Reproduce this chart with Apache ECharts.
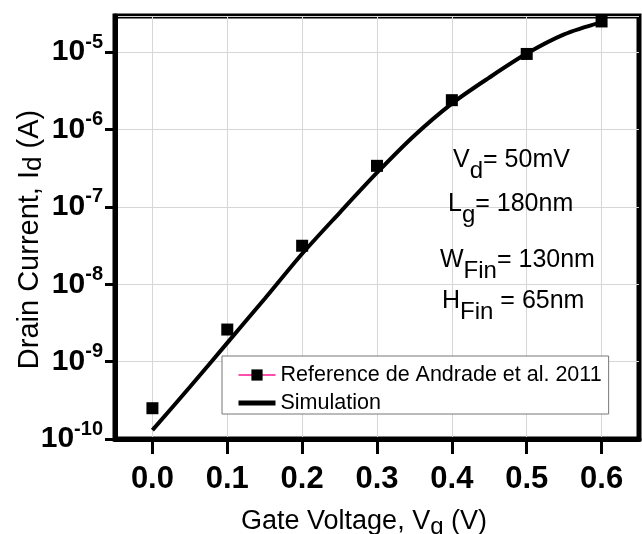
<!DOCTYPE html>
<html>
<head>
<meta charset="utf-8">
<script src="https://cdn.jsdelivr.net/npm/echarts@6/dist/echarts.min.js"></script>
<style>
html,body{margin:0;padding:0;background:#fff;}
#chart{width:642px;height:534px;}
</style>
</head>
<body>
<div id="chart"></div>
<script>
// ---- data ----
const xTicks = [0.0, 0.1, 0.2, 0.3, 0.4, 0.5, 0.6];
const refX = [0.0, 0.1, 0.2, 0.3, 0.4, 0.5, 0.6];
const refY = [2.5e-10, 2.6e-9, 3.15e-8, 3.4e-7, 2.4e-6, 9.5e-6, 2.5e-5];
const simX = [0.0, 0.05, 0.1, 0.15, 0.2, 0.25, 0.3, 0.35, 0.4, 0.45, 0.5, 0.55, 0.6];
const simY = [1.3e-10, 4.7e-10, 1.75e-9, 6.5e-9, 2.48e-8, 8.4e-8, 2.77e-7, 8.4e-7, 2.17e-6, 4.7e-6, 9.6e-6, 1.7e-5, 2.45e-5];
const refName = 'Reference de Andrade et al. 2011';
const simName = 'Simulation';
const annotations = [
  ['V', 'd', '= 50mV'],
  ['L', 'g', '= 180nm'],
  ['W', 'Fin', '= 130nm'],
  ['H', 'Fin', ' = 65nm']
];

const FONT = '"Liberation Sans", Arial, Helvetica, sans-serif';
const chart = echarts.init(document.getElementById('chart'));

const annPos = [[453, 137], [448, 181], [440, 237], [442, 278]];
const graphics = annotations.map((a, i) => ({
  type: 'text',
  x: annPos[i][0],
  y: annPos[i][1],
  z: 10,
  style: {
    text: '{m|' + a[0] + '}{s|' + a[1] + '}{m|' + a[2] + '}',
    textVerticalAlign: 'top',
    rich: {
      m: {fontFamily: FONT, fontSize: 25, lineHeight: 46, fill: '#000', color: '#000'},
      s: {fontFamily: FONT, fontSize: 24, lineHeight: 22, verticalAlign: 'bottom', fill: '#000', color: '#000'}
    }
  }
}));

chart.setOption({
  animation: false,
  backgroundColor: '#fff',
  grid: {left: 115, right: 3, top: 16, bottom: 95, show: true, borderColor: '#000', borderWidth: 5,
    backgroundColor: 'transparent', outerBoundsMode: 'none', containLabel: false},
  xAxis: {
    type: 'value', min: -0.05, max: 0.65,
    name: '{m|Gate Voltage, V}{s|g}{m| (V)}',
    nameLocation: 'middle', nameGap: 66, nameMoveOverlap: false,
    nameTextStyle: {
      padding: [0, 26, 0, 0],
      rich: {
        m: {fontFamily: FONT, fontSize: 27, lineHeight: 34, color: '#000'},
        s: {fontFamily: FONT, fontSize: 24, lineHeight: 24, verticalAlign: 'bottom', color: '#000'}
      }
    },
    axisLine: {onZero: false, lineStyle: {color: '#000', width: 5}},
    axisTick: {customValues: xTicks, length: 15, lineStyle: {color: '#000', width: 3}},
    axisLabel: {customValues: xTicks, margin: 25, fontFamily: FONT, fontSize: 31, fontWeight: 'bold', color: '#000',
      formatter: v => v.toFixed(1)},
    splitLine: {show: true, lineStyle: {color: '#d6d6d6', width: 1}}
  },
  yAxis: {
    type: 'log', logBase: 10, min: 1e-10, max: 2.94e-5,
    name: '{m|Drain Current, I}{s|d}{m| (A)}',
    nameLocation: 'middle', nameGap: 68, nameRotate: 90, nameMoveOverlap: false,
    nameTextStyle: {
      padding: [0, 24, 0, 0],
      rich: {
        m: {fontFamily: FONT, fontSize: 29, lineHeight: 34, color: '#000'},
        s: {fontFamily: FONT, fontSize: 26, lineHeight: 24, verticalAlign: 'bottom', color: '#000'}
      }
    },
    axisLine: {onZero: false, lineStyle: {color: '#000', width: 5}},
    axisTick: {length: 10, lineStyle: {color: '#000', width: 3}},
    axisLabel: {
      margin: 12, showMaxLabel: false,
      formatter: v => '{b|10}{s|' + Math.round(Math.log10(v)) + '}',
      rich: {
        b: {fontFamily: FONT, fontSize: 30, fontWeight: 'bold', lineHeight: 40, color: '#000'},
        s: {fontFamily: FONT, fontSize: 20, fontWeight: 'bold', lineHeight: 20, verticalAlign: 'top', color: '#000'}
      }
    },
    splitLine: {show: true, lineStyle: {color: '#d6d6d6', width: 1}}
  },
  legend: {
    orient: 'vertical', left: 222, top: 356,
    padding: [8, 7, 0, 14],
    itemGap: 6, itemWidth: 37, itemHeight: 14, itemTextGap: 7,
    backgroundColor: '#fff', borderColor: '#777', borderWidth: 1,
    textStyle: {fontFamily: FONT, fontSize: 21.5, color: '#000', lineHeight: 20},
    data: [
      {name: refName, lineStyle: {color: '#ff1493', width: 1.5, opacity: 1}},
      {name: simName, itemStyle: {opacity: 0}, lineStyle: {color: '#000', width: 5}}
    ]
  },
  series: [
    {
      name: simName, type: 'line', smooth: 0.3,
      data: simX.map((x, i) => [x, simY[i]]),
      showSymbol: false, symbol: 'none',
      lineStyle: {color: '#000', width: 4},
      itemStyle: {color: '#000'},
      z: 2
    },
    {
      name: refName, type: 'line',
      data: refX.map((x, i) => [x, refY[i]]),
      symbol: 'rect', symbolSize: 12, showSymbol: true,
      lineStyle: {width: 0, opacity: 0, color: '#ff1493'},
      itemStyle: {color: '#000'},
      z: 3
    }
  ],
  graphic: graphics
});
</script>
</body>
</html>
